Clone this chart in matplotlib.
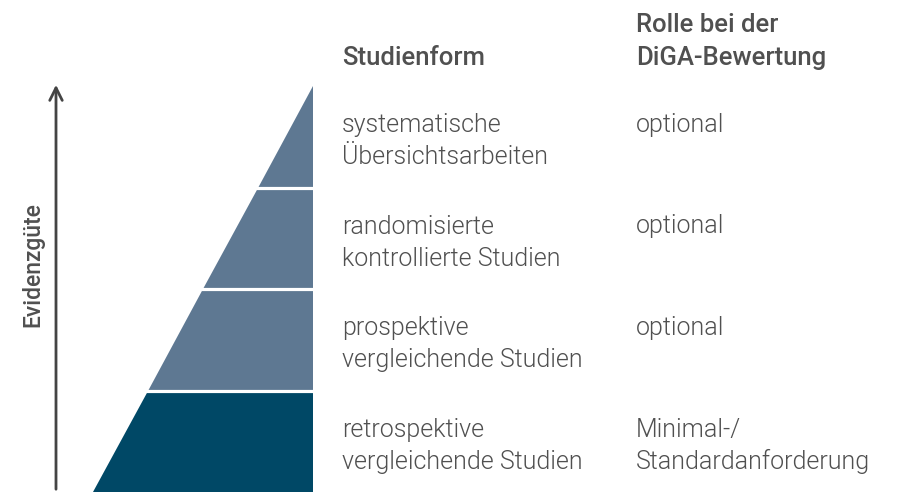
import matplotlib.pyplot as plt
from matplotlib.patches import Polygon

# study levels from the bottom of the pyramid to the top
studienform = [["retrospektive", "vergleichende Studien"],
               ["prospektive", "vergleichende Studien"],
               ["randomisierte", "kontrollierte Studien"],
               ["systematische", "Übersichtsarbeiten"]]
rolle = [["Minimal-/", "Standardanforderung"], ["optional"], ["optional"], ["optional"]]
farben = ["#004866", "#5e7892", "#5e7892", "#5e7892"]
kopf_links = ["Studienform"]
kopf_rechts = ["Rolle bei der", "DiGA-Bewertung"]

plt.rcParams['font.family'] = ['Roboto', 'DejaVu Sans']
textfarbe = "#505050"
zeile = 32.5  # line spacing in px

fig = plt.figure(figsize=(9.15, 4.92), dpi=100)
ax = fig.add_axes([0, 0, 1, 1])
ax.set_xlim(0, 915)
ax.set_ylim(492, 0)
ax.axis('off')

# pyramid geometry (pixel layout)
top, bottom = 86, 492
right, left_bottom = 313, 93
n = len(studienform)
h = (bottom - top) / n

def x_left(y):
    return right - (right - left_bottom) * (y - top) / (bottom - top)

def zeilen(x, y, lines, **kw):
    for k, s in enumerate(lines):
        ax.text(x, y + k * zeile, s, va='baseline', ha='left',
                color=textfarbe, **kw)

for i in range(n):
    y0 = bottom - i * h
    y1 = y0 - h
    poly = Polygon([(x_left(y0), y0), (right, y0), (right, y1), (x_left(y1), y1)],
                   closed=True, facecolor=farben[i], edgecolor='none')
    ax.add_patch(poly)
    if i > 0:
        ax.plot([x_left(y0) - 2, right], [y0, y0], color='white', lw=2.3,
                solid_capstyle='butt')
    zeilen(342, y1 + 46, studienform[i], fontsize=18, fontweight=300)
    zeilen(636, y1 + 46, rolle[i], fontsize=18, fontweight=300)

# headers
zeilen(342, 65, kopf_links, fontsize=18.5, fontweight=500)
zeilen(636, 65 - zeile, kopf_rechts, fontsize=18.5, fontweight=500)

# evidence arrow
ax.annotate("", xy=(56, 82), xytext=(56, 492),
            arrowprops=dict(arrowstyle='->,head_length=0.9,head_width=0.45',
                            color='#444444', lw=2))
ax.text(33, 265, "Evidenzgüte", rotation=90, fontsize=16.5, color=textfarbe,
        fontweight=500, va='center', ha='center')

fig.savefig("out.png", dpi=100)
